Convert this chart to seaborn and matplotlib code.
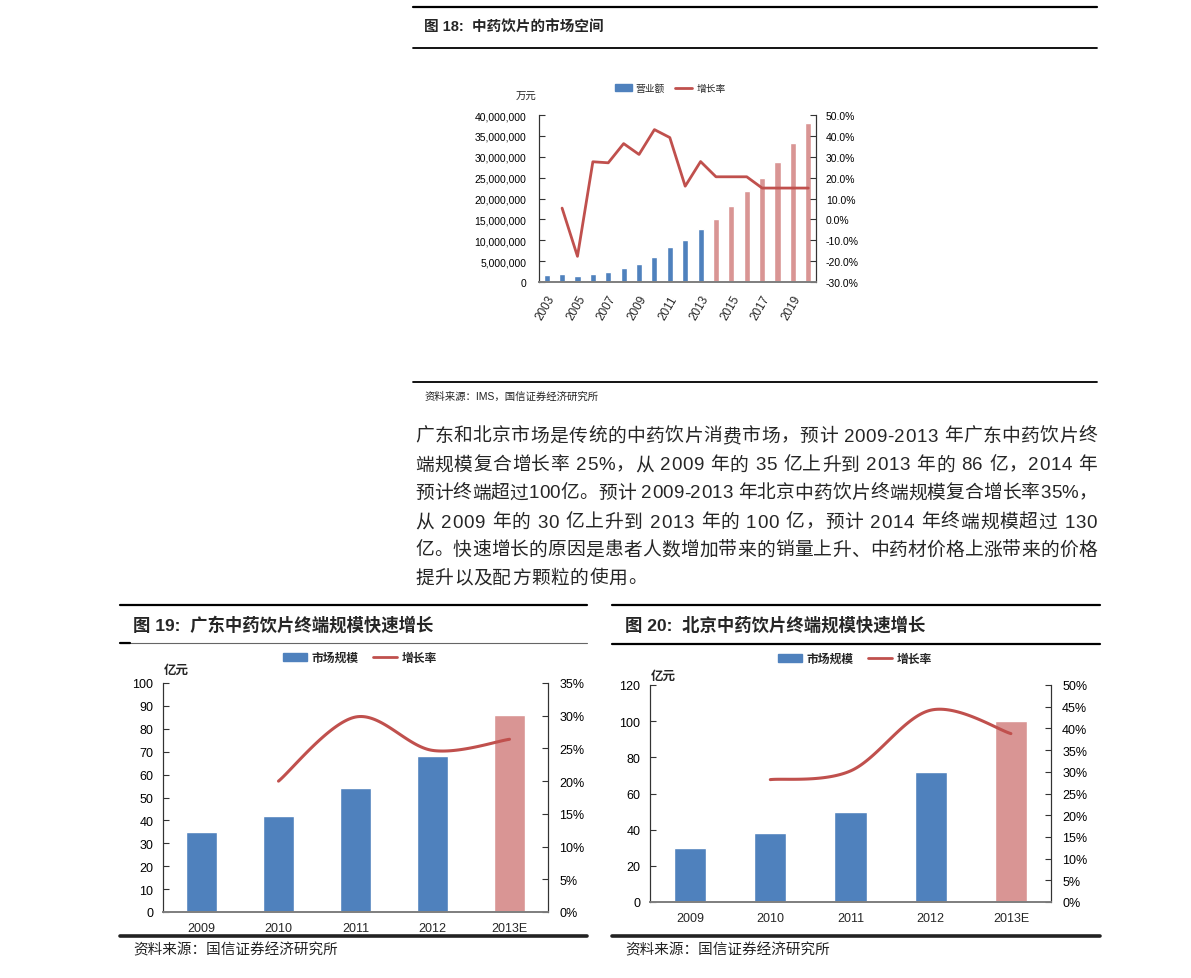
import numpy as np
import seaborn as sns
import matplotlib
matplotlib.use("Agg")
import matplotlib.pyplot as plt
from matplotlib.lines import Line2D
from matplotlib.patches import Patch
from matplotlib.ticker import FuncFormatter, MultipleLocator

# =====================
# DATA
# =====================
years18 = [str(y) for y in range(2003, 2021)]
revenue18 = [1.6e6, 1.8e6, 1.35e6, 1.8e6, 2.3e6, 3.3e6, 4.2e6, 6.1e6, 8.5e6,
             10.0e6, 12.6e6, 15.2e6, 18.1e6, 21.9e6, 25.0e6, 28.8e6, 33.2e6, 38.2e6]
growth18 = [np.nan, 5.4, -17.7, 27.6, 27.1, 36.3, 31.1, 43.0, 39.2, 15.9,
            27.7, 20.4, 20.4, 20.4, 15.0, 15.0, 15.0, 15.0]
n_actual18 = 11          # 2003-2013 actual, 2014+ forecast

years_gd = ["2009", "2010", "2011", "2012", "2013E"]
size_gd = [35, 42, 54, 68, 86]
growth_gd = [np.nan, 20.0, 29.8, 24.7, 26.4]

size_bj = [30, 38, 50, 72, 100]
growth_bj = [np.nan, 28.2, 30.2, 44.2, 38.8]

para_lines = [
    "广东和北京市场是传统的中药饮片消费市场，预计 2009-2013 年广东中药饮片终",
    "端规模复合增长率 25%，从 2009 年的 35 亿上升到 2013 年的 86 亿，2014 年",
    "预计终端超过100亿。预计 2009-2013 年北京中药饮片终端规模复合增长率35%，",
    "从 2009 年的 30 亿上升到 2013 年的 100 亿，预计 2014 年终端规模超过 130",
    "亿。快速增长的原因是患者人数增加带来的销量上升、中药材价格上涨带来的价格",
    "提升以及配方颗粒的使用。",
]

BLUE = "#4F81BD"
PINK = "#D99594"
RED = "#C0504D"

# =====================
# STYLE
# =====================
sns.set_style("white")
plt.rcParams["font.family"] = ["Liberation Sans", "Noto Sans CJK SC"]
plt.rcParams["axes.unicode_minus"] = False

W, H = 1191, 979
fig = plt.figure(figsize=(W / 100, H / 100), dpi=100)


def fx(x):
    return x / W


def fy(y):
    return 1 - y / H


def box(x1, y1, x2, y2):
    return [fx(x1), fy(y2), (x2 - x1) / W, (y2 - y1) / H]


def hline(x1, x2, y, lw=1.5, color="black"):
    fig.add_artist(Line2D([fx(x1), fx(x2)], [fy(y), fy(y)], lw=lw,
                          color=color, transform=fig.transFigure))


def text(x, y, s, **kw):
    fig.text(fx(x), fy(y), s, va="center", ha=kw.pop("ha", "left"), **kw)


def smooth(xs, ys, n=40):
    """Catmull-Rom curve through the points (Excel-like smoothed line)."""
    p = np.column_stack([xs, ys])
    p = np.vstack([p[0], p, p[-1]])
    t = np.linspace(0, 1, n)[:, None]
    out = []
    for i in range(1, len(p) - 2):
        p0, p1, p2, p3 = p[i - 1], p[i], p[i + 1], p[i + 2]
        seg = 0.5 * (2 * p1 + (-p0 + p2) * t + (2 * p0 - 5 * p1 + 4 * p2 - p3) * t ** 2
                     + (-p0 + 3 * p1 - 3 * p2 + p3) * t ** 3)
        out.append(seg if i == 1 else seg[1:])
    return np.vstack(out)


def style_axes(ax, ax2, fs, lpad, rpad, xpad):
    for a in (ax, ax2):
        a.spines["top"].set_visible(False)
        a.spines["left"].set_color("#333333")
        a.spines["right"].set_color("#333333")
        a.spines["bottom"].set_color("#808080")
        a.spines["bottom"].set_linewidth(1.3)
        a.tick_params(axis="y", direction="in", length=4, width=0.8,
                      labelsize=fs, colors="#333333", labelcolor="black")
        a.set_xlabel("")
        a.set_ylabel("")
    ax.tick_params(axis="y", pad=lpad)
    ax2.tick_params(axis="y", pad=rpad)
    ax.tick_params(axis="x", which="major", length=0, labelsize=fs, pad=xpad)
    ax.tick_params(axis="x", which="minor", direction="in", length=3, width=0.8,
                   color="#333333")


# =====================
# CHART 18
# =====================
hline(413, 1097, 8, lw=1.6)
text(424, 28, "图 18:  中药饮片的市场空间", fontsize=10.5, fontweight="bold")
hline(413, 1097, 49, lw=1.3)

ax = fig.add_axes(box(539, 116, 816, 283))
colors18 = [BLUE] * n_actual18 + [PINK] * (len(years18) - n_actual18)
sns.barplot(x=years18, y=revenue18, hue=years18, palette=dict(zip(years18, colors18)),
            legend=False, width=0.4, saturation=1, ax=ax)
ax2 = ax.twinx()
sns.lineplot(x=np.arange(len(years18)), y=growth18, color=RED, lw=2.0, ax=ax2)
ax.set_xlim(-0.5, len(years18) - 0.5)
ax.set_ylim(0, 40e6)
ax.yaxis.set_major_locator(MultipleLocator(5e6))
ax.yaxis.set_major_formatter(FuncFormatter(lambda v, p: f"{v:,.0f}"))
ax2.set_ylim(-30, 50)
ax2.yaxis.set_major_locator(MultipleLocator(10))
ax2.yaxis.set_major_formatter(FuncFormatter(lambda v, p: f"{v:.1f}%"))
style_axes(ax, ax2, 7.5, lpad=9, rpad=7, xpad=8)
ax.set_xticks(range(0, len(years18), 2))
ax.set_xticklabels(years18[::2], rotation=60, ha="right", rotation_mode="anchor",
                   fontsize=8.5)
ax.set_xticks(np.arange(0.5, len(years18) - 1, 1), minor=True)
text(526, 97, "万元", fontsize=7.5, ha="center")
ax.legend(handles=[Patch(color=BLUE, label="营业额"),
                   Line2D([], [], color=RED, lw=2, label="增长率")],
          loc="center", bbox_to_anchor=(fx(670), fy(89)), bbox_transform=fig.transFigure,
          ncol=2, frameon=False, fontsize=7, handlelength=1.8, handleheight=0.6,
          columnspacing=1.0, handletextpad=0.4)

hline(413, 1097, 383, lw=1.3)
text(425, 397, "资料来源：IMS，国信证券经济研究所", fontsize=7.5, color="#222222")

# =====================
# PARAGRAPH (justified)
# =====================
renderer = fig.canvas.get_renderer()
PFS = 13.5
para_x1, para_x2 = 415, 1097
para_y = [437, 466, 494, 523, 551, 579]

tb = fig.text(0, 0, "||", fontsize=PFS)
bar_w = tb.get_window_extent(renderer).width
tb.remove()


def char_width(c):
    t = fig.text(0, 0, "|" + c + "|", fontsize=PFS)
    w = t.get_window_extent(renderer).width
    t.remove()
    return w - bar_w


for i, line in enumerate(para_lines):
    widths = [char_width(c) for c in line]
    total = sum(widths)
    last = i == len(para_lines) - 1
    gap = 0.6 if last else (para_x2 - para_x1 - total) / (len(line) - 1)
    x = para_x1
    for c, w in zip(line, widths):
        if c != " ":
            fig.text(fx(x), fy(para_y[i]), c, fontsize=PFS, va="center", ha="left")
        x += w + gap

# =====================
# CHART 19 / 20
# =====================
def small_chart(x1, x2, ytop, title, thin_header, axbox, sizes, growth, ymax, ystep,
                gmax, unit_xy, legend_xy):
    hline(x1, x2, ytop, lw=1.6)
    text(x1 + 13, ytop + 19, title, fontsize=12.5, fontweight="bold")
    if thin_header:
        hline(x1, x2, ytop + 38, lw=0.8, color="#666666")
        hline(x1, x1 + 10, ytop + 38, lw=1.6)
    else:
        hline(x1, x2, ytop + 39, lw=1.6)

    a = fig.add_axes(box(*axbox))
    cols = [BLUE] * (len(years_gd) - 1) + [PINK]
    sns.barplot(x=years_gd, y=sizes, hue=years_gd, palette=dict(zip(years_gd, cols)),
                legend=False, width=0.4, saturation=1, ax=a)
    a2 = a.twinx()
    xs = np.arange(1, len(years_gd))
    curve = smooth(xs, growth[1:])
    sns.lineplot(x=curve[:, 0], y=curve[:, 1], sort=False, estimator=None,
                 color=RED, lw=2.2, ax=a2)
    a.set_xlim(-0.5, len(years_gd) - 0.5)
    a.set_ylim(0, ymax)
    a.yaxis.set_major_locator(MultipleLocator(ystep))
    a2.set_ylim(0, gmax)
    a2.yaxis.set_major_locator(MultipleLocator(5))
    a2.yaxis.set_major_formatter(FuncFormatter(lambda v, p: f"{v:.0f}%"))
    style_axes(a, a2, 9, lpad=7, rpad=8, xpad=7)
    a.set_xticks(np.arange(0.5, len(years_gd) - 1, 1), minor=True)
    text(unit_xy[0], unit_xy[1], "亿元", fontsize=9, fontweight="bold", ha="center")
    a.legend(handles=[Patch(color=BLUE, label="市场规模"),
                      Line2D([], [], color=RED, lw=2, label="增长率")],
             loc="center", bbox_to_anchor=(fx(legend_xy[0]), fy(legend_xy[1])),
             bbox_transform=fig.transFigure, ncol=2, frameon=False,
             prop={"size": 8.5, "weight": "bold"}, handlelength=2.0, handleheight=0.6,
             columnspacing=1.2, handletextpad=0.4)

    hline(x1, x2, 937, lw=2.6, color="#222222")
    text(x1 + 13, 950, "资料来源：国信证券经济研究所", fontsize=10.5, color="#222222")


small_chart(120, 587, 606, "图 19:  广东中药饮片终端规模快速增长", True,
            (163, 684, 548, 913), size_gd, growth_gd, 100, 10, 35,
            (176, 671), (360, 659))
small_chart(612, 1100, 606, "图 20:  北京中药饮片终端规模快速增长", False,
            (650, 686, 1051, 903), size_bj, growth_bj, 120, 20, 50,
            (663, 677), (855, 660))

fig.savefig("out.png", dpi=100)
